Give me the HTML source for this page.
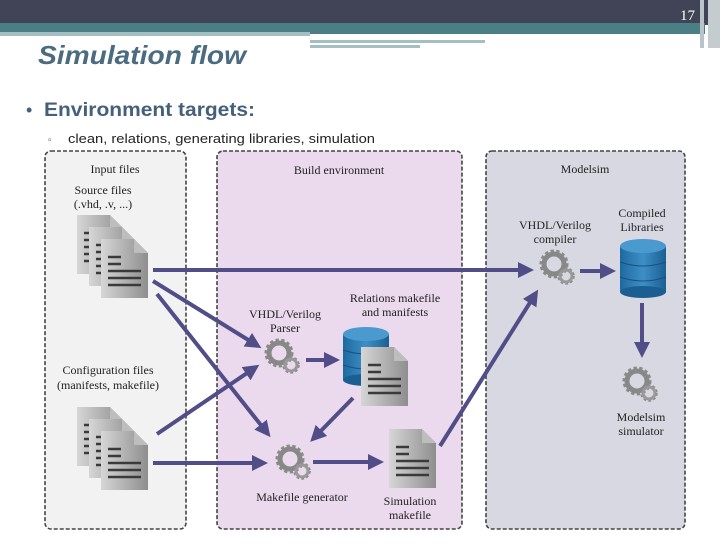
<!DOCTYPE html>
<html><head><meta charset="utf-8"><style>
body{margin:0;width:720px;height:540px;overflow:hidden;background:#fff;font-family:"Liberation Sans",sans-serif}
</style></head><body>
<svg width="720" height="540" viewBox="0 0 720 540" xmlns="http://www.w3.org/2000/svg">
<defs>
<linearGradient id="pg" x1="0" y1="0" x2="1" y2="0"><stop offset="0" stop-color="#d6d6d6"/><stop offset="1" stop-color="#8e8e8e"/></linearGradient>
<linearGradient id="db" x1="0" y1="0" x2="1" y2="0"><stop offset="0" stop-color="#1e6aa0"/><stop offset=".5" stop-color="#3d8fc6"/><stop offset="1" stop-color="#1b5f92"/></linearGradient>
<marker id="ah" markerWidth="4" markerHeight="4" refX="3" refY="2" orient="auto" markerUnits="strokeWidth"><path d="M0,0 L4,2 L0,4 z" fill="#514e87"/></marker>
<g id="doc"><path d="M0,0 H33 L47,14 V59 H0 Z" fill="url(#pg)"/><path d="M33,0 V14 H47 Z" fill="#bdbdbd"/><g stroke="#3a3a3a" stroke-width="2.5"><line x1="7" y1="18" x2="20" y2="18"/><line x1="7" y1="25" x2="20" y2="25"/><line x1="7" y1="32" x2="40" y2="32"/><line x1="7" y1="39" x2="40" y2="39"/><line x1="7" y1="46" x2="40" y2="46"/></g></g>
<g id="gear"><circle cx="0" cy="0" r="12" fill="none" stroke="#8a8a8a" stroke-width="5" stroke-dasharray="3 2.3"/><circle cx="0" cy="0" r="10" fill="none" stroke="#888" stroke-width="5"/><circle cx="12" cy="12" r="7" fill="none" stroke="#8a8a8a" stroke-width="3.5" stroke-dasharray="2.5 2"/><circle cx="12" cy="12" r="6" fill="none" stroke="#999" stroke-width="3"/></g>
<g id="cyl"><rect x="0" y="8" width="46" height="46" fill="url(#db)"/><ellipse cx="23" cy="54" rx="23" ry="6" fill="#1b5f92"/><ellipse cx="23" cy="8" rx="23" ry="7" fill="#4a9ad0"/><path d="M0,24 Q23,32 46,24 M0,39 Q23,47 46,39" stroke="#1a5080" stroke-width="1" fill="none"/></g>
</defs>
<rect x="0" y="0" width="720" height="25" fill="#414456"/>
<rect x="0" y="23" width="705" height="11" fill="#4a7f86"/>
<rect x="0" y="32" width="310" height="4" fill="#a3bfc1"/>
<rect x="310" y="40" width="175" height="3" fill="#a3bfc1"/>
<rect x="310" y="45" width="110" height="3" fill="#a3bfc1"/>
<rect x="700" y="0" width="4" height="48" fill="#b8c4c8"/><rect x="708" y="0" width="12" height="48" fill="#c4cccf"/>
<text x="680" y="20" font-family="Liberation Serif,serif" font-size="15" fill="#fff">17</text>
<text x="38" y="64" font-size="26" font-style="italic" font-weight="bold" fill="#4a6b80" textLength="208" lengthAdjust="spacingAndGlyphs">Simulation flow</text>
<text x="26" y="116" font-size="18" fill="#45607a">•</text>
<text x="44" y="116" font-size="19" font-weight="bold" fill="#45607a" textLength="211" lengthAdjust="spacingAndGlyphs">Environment targets:</text>
<text x="48" y="143" font-size="10" fill="#45607a">▫</text>
<text x="68" y="143" font-size="13" fill="#222" textLength="307" lengthAdjust="spacingAndGlyphs">clean, relations, generating libraries, simulation</text>
<g stroke="#444" stroke-width="1.6" stroke-dasharray="4 2">
<rect x="45" y="151" width="141" height="378" rx="6" fill="#f2f2f2"/>
<rect x="217" y="151" width="245" height="378" rx="6" fill="#ebd9ed"/>
<rect x="486" y="151" width="199" height="378" rx="6" fill="#d8d8e3"/>
</g>
<g font-family="Liberation Serif,serif" font-size="12" fill="#222" text-anchor="middle">
<text x="115" y="173">Input files</text>
<text x="103" y="194">Source files</text><text x="103" y="208">(.vhd, .v, ...)</text>
<text x="339" y="174">Build environment</text>
<text x="585" y="173">Modelsim</text>
<text x="555" y="229">VHDL/Verilog</text><text x="555" y="243">compiler</text>
<text x="642" y="217">Compiled</text><text x="642" y="231">Libraries</text>
<text x="285" y="318">VHDL/Verilog</text><text x="285" y="332">Parser</text>
<text x="395" y="302">Relations makefile</text><text x="395" y="316">and manifests</text>
<text x="108" y="374">Configuration files</text><text x="108" y="389">(manifests, makefile)</text>
<text x="641" y="421">Modelsim</text><text x="641" y="435">simulator</text>
<text x="302" y="501">Makefile generator</text>
<text x="410" y="505">Simulation</text><text x="410" y="519">makefile</text>
</g>
<use href="#doc" x="77" y="215"/><use href="#doc" x="89" y="227"/><use href="#doc" x="101" y="239"/>
<use href="#doc" x="77" y="407"/><use href="#doc" x="89" y="419"/><use href="#doc" x="101" y="431"/>
<use href="#cyl" x="343" y="326"/>
<use href="#doc" x="361" y="347"/>
<use href="#cyl" x="620" y="238"/>
<use href="#doc" x="389" y="429"/>
<use href="#gear" x="279" y="353"/>
<use href="#gear" x="554" y="264"/>
<use href="#gear" x="290" y="459"/>
<use href="#gear" x="637" y="381"/>
<g stroke="#514e87" stroke-width="4" marker-end="url(#ah)" fill="none">
<line x1="153" y1="270" x2="530" y2="270"/>
<line x1="153" y1="281" x2="258" y2="346"/>
<line x1="157" y1="294" x2="268" y2="434"/>
<line x1="157" y1="434" x2="256" y2="367"/>
<line x1="153" y1="463" x2="264" y2="463"/>
<line x1="306" y1="360" x2="336" y2="360"/>
<line x1="353" y1="398" x2="313" y2="439"/>
<line x1="313" y1="462" x2="380" y2="462"/>
<line x1="440" y1="446" x2="536" y2="293"/>
<line x1="580" y1="271" x2="612" y2="271"/>
<line x1="642" y1="303" x2="642" y2="354"/>
</g>
</svg>
</body></html>
